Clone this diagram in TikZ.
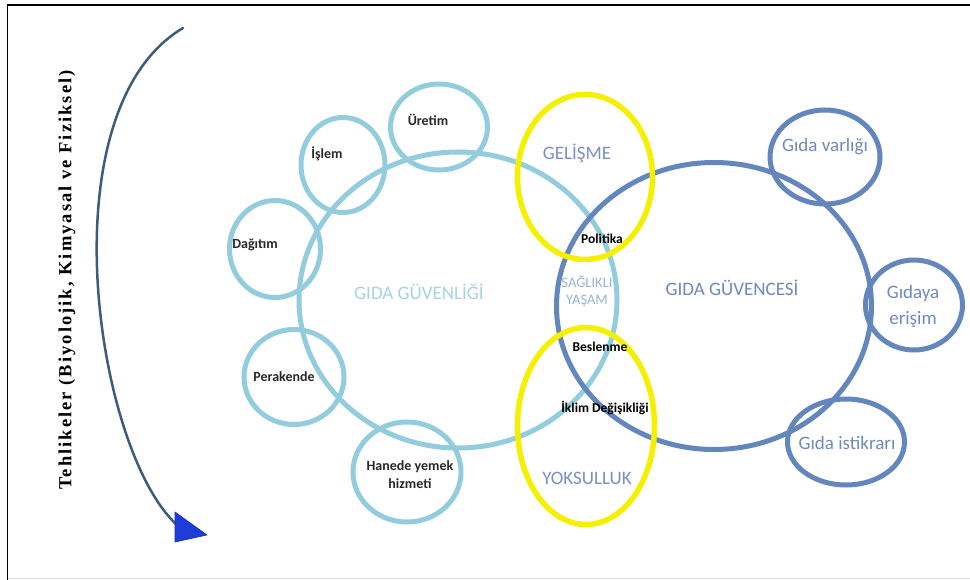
\documentclass[tikz,border=0pt]{standalone}
\usepackage{fontspec}
\setmainfont{Carlito}
\newfontfamily\serifb[LetterSpace=11]{Liberation Serif}
\usetikzlibrary{shapes.geometric,arrows.meta}
\definecolor{lightc}{RGB}{147,205,221}
\definecolor{darkc}{RGB}{99,134,189}
\definecolor{yellowc}{RGB}{245,240,0}
\definecolor{gvtext}{RGB}{166,211,226}
\definecolor{gctext}{RGB}{113,137,186}
\definecolor{gytext}{RGB}{125,143,194}
\definecolor{sytext}{RGB}{150,180,210}
\definecolor{dlabel}{RGB}{40,40,40}
\definecolor{arrline}{RGB}{62,92,122}
\definecolor{tipblue}{RGB}{30,60,216}
\tikzset{
  ring/.style={ellipse, inner sep=0pt, line width=5pt},
  lring/.style={ring, draw=lightc},
  dring/.style={ring, draw=darkc},
  yring/.style={ring, draw=yellowc, line width=5.5pt},
  biglabel/.style={font=\fontsize{19}{20}\selectfont, align=center},
  smalllabel/.style={font=\bfseries\fontsize{14}{18}\selectfont, text=dlabel, align=center},
  bluelabel/.style={font=\fontsize{19}{26}\selectfont, text=gctext, align=center},
  midlabel/.style={font=\bfseries\fontsize{13.5}{16}\selectfont, text=black},
  arrowhead/.style={fill=tipblue, draw=tipblue!80!black, line width=0.6pt, line join=round},
}
\begin{document}
\begin{tikzpicture}[x=1pt,y=-1pt]
\useasboundingbox (0,0) rectangle (970,580);
\fill[white] (0,0) rectangle (970,580);
% frame
\draw[black, line width=1.5pt] (7.5,580) -- (7.5,5) -- (970,5);
\draw[black!12, line width=1pt] (7.5,578.5) -- (970,578.5);

% light blue (food safety) rings
\node[lring, minimum width=318, minimum height=296] (gg) at (458,300) {};
\node[lring, minimum width=97, minimum height=86] (uretim) at (439,127) {};
\node[lring, minimum width=84, minimum height=95] (islem) at (343,165) {};
\node[lring, minimum width=91, minimum height=97] (dagitim) at (275,249) {};
\node[lring, minimum width=100, minimum height=95] (perakende) at (294,377) {};
\node[lring, minimum width=108, minimum height=100] (hanede) at (407,472) {};

% dark blue (food security) rings
\node[dring, minimum width=315, minimum height=287] (gc) at (714,306) {};
\node[dring, minimum width=110, minimum height=94] (varlik) at (825,157) {};
\node[dring, minimum width=97, minimum height=90] (erisim) at (914,305) {};
\node[dring, minimum width=117, minimum height=86] (istikrar) at (846,442) {};

% yellow rings
\node[yring, minimum width=135, minimum height=165] (gelisme) at (585,177) {};
\node[yring, minimum width=137, minimum height=197] (yoksul) at (586,426) {};

% labels
\node[biglabel, text=gvtext] (tgg) at (419,292) {GIDA GÜVENLİĞİ};
\node[biglabel, text=gctext] (tgc) at (732,288) {GIDA GÜVENCESİ};
\node[biglabel, text=gytext] (tgel) at (577,153) {GELİŞME};
\node[biglabel, text=gytext] (tyok) at (587,478) {YOKSULLUK};
\node[font=\fontsize{14.5}{17}\selectfont, text=sytext, align=center] (tsy) at (587,291) {SAĞLIKLI\\YAŞAM};

\node[midlabel] (tpol) at (602,239) {Politika};
\node[midlabel] (tbes) at (600,347) {Beslenme};
\node[midlabel] (tikl) at (605,408) {İklim Değişikliği};

\node[smalllabel] (tdag) at (255,245) {Dağıtım};
\node[smalllabel] (tisl) at (327,154) {İşlem};
\node[smalllabel] (ture) at (428,120) {Üretim};
\node[smalllabel] (tper) at (284,377) {Perakende};
\node[smalllabel] (than) at (410,475) {Hanede yemek\\hizmeti};

\node[bluelabel] (tvar) at (825,147) {Gıda varlığı};
\node[bluelabel] (teri) at (913,306) {Gıdaya\\erişim};
\node[bluelabel] (tist) at (847,443) {Gıda istikrarı};

% hazards arrow
\coordinate (astart) at (183,28);
\coordinate (aend) at (177,525);
\coordinate (atip) at (207,535);
\draw[arrline, line width=2.5pt, line cap=round]
  (astart) .. controls (45,110) and (95,450) .. (aend);
\fill[arrowhead] (175,512) -- (atip) -- (175,542) -- cycle;
\node[rotate=90, font=\serifb\bfseries\fontsize{18.5}{20}\selectfont] (haz) at (67,280)
  {Tehlikeler (Biyolojik, Kimyasal ve Fiziksel)};
\end{tikzpicture}
\end{document}
